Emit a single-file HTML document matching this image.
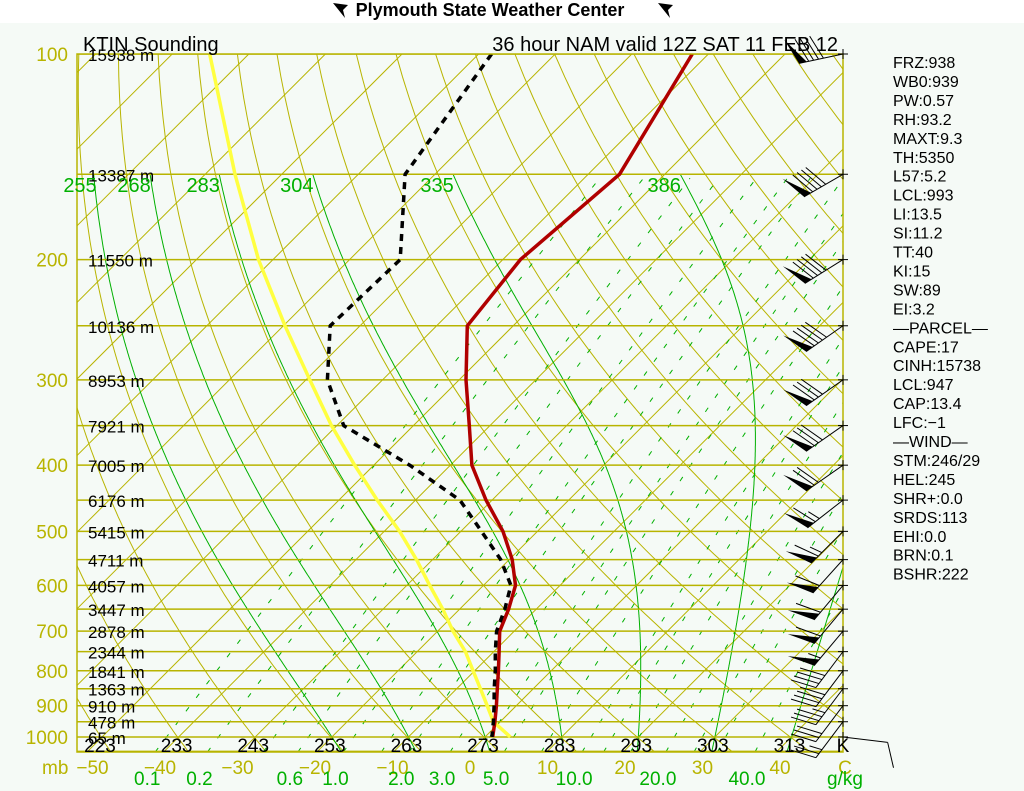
<!DOCTYPE html>
<html><head><meta charset="utf-8"><style>
html,body{margin:0;padding:0;background:#fff}
svg{display:block}
text{font-family:"Liberation Sans",sans-serif}
</style></head><body>
<svg id="chart" width="1024" height="791" viewBox="0 0 1024 791" xmlns="http://www.w3.org/2000/svg">
<rect x="0" y="0" width="1024" height="791" fill="#f5faf6"/>
<rect x="0" y="0" width="1024" height="23" fill="#ffffff"/>
<g>
<text x="490" y="16" text-anchor="middle" font-family="Liberation Serif,serif" font-weight="bold" font-size="18" fill="#000">Plymouth State Weather Center</text>
<path d="M333,3 L348,5 L343,10 L345,18 Z" fill="#000"/>
<path d="M658,3 L673,5 L668,10 L670,18 Z" fill="#000"/>
</g>
<defs><clipPath id="box"><rect x="77" y="54" width="766" height="698"/></clipPath></defs>
<g id="grid" clip-path="url(#box)"></g>
<g id="traces" clip-path="url(#box)"></g>
<rect x="77" y="54" width="766" height="698" fill="none" stroke="#b8b400" stroke-width="1.5"/>
<g id="labels"></g>
<g id="winds"></g>
<text x="83" y="51" font-size="20" fill="#000">KTIN Sounding</text>
<text x="838" y="51" font-size="20" text-anchor="end" fill="#000">36 hour NAM valid 12Z SAT 11 FEB 12</text>
<g id="indices"></g>
</svg>
<script>
const pressures=[100,150,200,250,300,350,400,450,500,550,600,650,700,750,800,850,900,950,1000];
const tempC=[-62.1,-55.9,-57.7,-56.0,-49.1,-42.7,-37.2,-30.8,-24.5,-19.6,-15.8,-13.6,-11.9,-9.3,-6.9,-4.7,-2.6,-0.7,1.0];
const dewC=[-88.3,-83.9,-73.4,-73.9,-67.2,-59.1,-45.3,-34.2,-27.3,-21.1,-16.4,-14.1,-12.3,-9.8,-7.3,-5.1,-2.9,-0.9,0.9];
const parcelC=[-125.1,-106.1,-91.9,-79.8,-69.5,-60.7,-52.5,-45.0,-38.0,-32.1,-27.0,-22.2,-18.0,-13.7,-10.2,-6.9,-3.8,-0.9,3.3];
const heightsM=[15938,13387,11550,10136,8953,7921,7005,6176,5415,4711,4057,3447,2878,2344,1841,1363,910,478,65];
const windDir=[258,240,238,235,235,235,235,232,225,222,220,220,220,217,217,217,217,217,97];
const windSpd=[90,90,90,90,80,80,70,65,65,60,60,60,55,40,40,35,30,25,10];
const pLabels=[100,200,300,400,500,600,700,800,900,1000];
const tLabels=[-50,-40,-30,-20,-10,0,10,20,30,40];
const thetaLabels=[223,233,243,253,263,273,283,293,303,313];
const thetaELabels=[255,268,283,304,335,386];
const mixLabels=[0.1,0.2,0.6,1.0,2.0,3.0,5.0,10.0,20.0,40.0];
const mixLines=[0.1,0.2,0.4,0.6,1,1.5,2,3,4,5,7,10,12,15,20,25,30,40];
const moistStartC=[-20,-10,0,10,20,30,40];
const indices=["FRZ:938","WB0:939","PW:0.57","RH:93.2","MAXT:9.3","TH:5350","L57:5.2","LCL:993","LI:13.5","SI:11.2","TT:40","KI:15","SW:89","EI:3.2","\u2014PARCEL\u2014","CAPE:17","CINH:15738","LCL:947","CAP:13.4","LFC:\u22121","\u2014WIND\u2014","STM:246/29","HEL:245","SHR+:0.0","SRDS:113","EHI:0.0","BRN:0.1","BSHR:222"];

const NS="http://www.w3.org/2000/svg";
const OL="#b8b400", GR="#00b000";
function yOf(p){return 54+296.6*Math.log(p/100);}
function xOf(T,p){return 470+7.66*T+(752-yOf(p));}
function mk(tag,attrs,parent){const e=document.createElementNS(NS,tag);for(const k in attrs)e.setAttribute(k,attrs[k]);parent.appendChild(e);return e;}
const grid=document.getElementById('grid'),traces=document.getElementById('traces'),labels=document.getElementById('labels'),winds=document.getElementById('winds'),ind=document.getElementById('indices');
function polyStr(pts){return pts.map(q=>q[0].toFixed(1)+','+q[1].toFixed(1)).join(' ');}

for(let T=-160;T<=50;T+=10){
  const l=mk('line',{x1:xOf(T,1052),y1:yOf(1052),x2:xOf(T,100),y2:yOf(100),stroke:OL,'stroke-width':1},grid);
  
  
}
for(let th=193;th<=523;th+=10){
  const pts=[];
  for(let p=1052;p>=100;p-=8){pts.push([xOf(th*Math.pow(p/1000,0.286)-273.15,p),yOf(p)]);}
  pts.push([xOf(th*Math.pow(0.1,0.286)-273.15,100),yOf(100)]);
  const e=mk('polyline',{points:polyStr(pts),fill:'none',stroke:OL,'stroke-width':1},grid);
  
  
}
for(const w of mixLines){
  const pts=[];
  for(let p=1052;p>=150;p-=10){const e=w*p/(622+w);const L=Math.log(e/6.112);const Td=243.5*L/(17.67-L);pts.push([xOf(Td,p),yOf(p)]);}
  const e=mk('polyline',{points:polyStr(pts),fill:'none',stroke:GR,'stroke-width':1,'stroke-dasharray':'5,12'},grid);
  
  
}
function dTdp(T,p){const es=6.112*Math.exp(17.67*(T-273.15)/(T-29.65));const rs=0.622*es/(p-es);return (287*T+2.5e6*rs)/(p*(1005+2.5e6*2.5e6*rs*0.622/(287*T*T)));}
for(const T0 of moistStartC){
  let T=T0+273.15,p=1000;
  while(p<1052){T+=dTdp(T,p)*2;p+=2;}
  const pts=[[xOf(T-273.15,p),yOf(p)]];
  while(p>150){T-=dTdp(T,p)*2;p-=2;pts.push([xOf(T-273.15,p),yOf(p)]);}
  const e=mk('polyline',{points:polyStr(pts),fill:'none',stroke:GR,'stroke-width':1},grid);
  
  
}
for(let p=100;p<=1050;p+=50){
  const e=mk('line',{x1:77,x2:843,y1:yOf(p),y2:yOf(p),stroke:OL,'stroke-width':1.5},grid);
  
  
}
function trace(arr,attrs,name){
  const pts=pressures.map((p,i)=>[xOf(arr[i],p),yOf(p)]);
  const e=mk('polyline',Object.assign({points:polyStr(pts),fill:'none','stroke-linejoin':'round'},attrs),traces);
  
  
}
trace(parcelC,{stroke:'#ffff40','stroke-width':3.5},'parcel-trace');
trace(tempC,{stroke:'#b00000','stroke-width':3.5},'temperature-trace');
trace(dewC,{stroke:'#000','stroke-width':3.5,'stroke-dasharray':'7,6'},'dewpoint-trace');

for(const p of pLabels){
  const t=mk('text',{x:68,y:yOf(p)+7,'text-anchor':'end','font-size':19,fill:OL},labels);t.textContent=p;
  
  
}
pressures.forEach((p,i)=>{
  const t=mk('text',{x:88,y:yOf(p)+7,'font-size':17,fill:'#000'},labels);t.textContent=heightsM[i]+' m';
  
  
});
for(const th of thetaLabels){
  const t=mk('text',{x:xOf(th-273,1052)+13,y:752,'text-anchor':'middle','font-size':19,fill:'#000'},labels);t.textContent=th;
  
  
}
let kt=mk('text',{x:843,y:752,'font-size':19,fill:'#000','text-anchor':'middle'},labels);kt.textContent='K';


for(const T of tLabels){
  const t=mk('text',{x:470+7.75*T+(T===-50?10:0),y:774,'text-anchor':'middle','font-size':19,fill:OL},labels);t.textContent=(T<0?'\u2212':'')+Math.abs(T);
  
  
}
let mb=mk('text',{x:42,y:774,'font-size':19,fill:OL},labels);mb.textContent='mb';


let cu=mk('text',{x:845,y:774,'text-anchor':'middle','font-size':19,fill:OL},labels);cu.textContent='C';


for(const w of mixLabels){
  const e=w*1052/(622+w);const L=Math.log(e/6.112);const Td=243.5*L/(17.67-L);
  const t=mk('text',{x:xOf(Td,1052)-8,y:785,'text-anchor':'middle','font-size':19,fill:GR},labels);t.textContent=w.toFixed(1);
  
  
}
let gk=mk('text',{x:845,y:785,'text-anchor':'middle','font-size':19,fill:GR},labels);gk.textContent='g/kg';


thetaELabels.forEach((v,i)=>{
  let T=moistStartC[i]+273.15,p=1000;
  while(p>150){T-=dTdp(T,p)*2;p-=2;}
  const t=mk('text',{x:Math.max(xOf(T-273.15,150)-16,80),y:192,'text-anchor':'middle','font-size':20,fill:GR},labels);t.textContent=v;
  
  
});
indices.forEach((s,i)=>{
  const t=mk('text',{x:893,y:68+i*18.95,'font-size':16,fill:'#000'},ind);t.textContent=s;
  
  
});
pressures.forEach((p,i)=>{
  const y0=yOf(p),x0=843;
  const g=mk('g',{},winds);
  
  
  mk('line',{x1:x0-5,x2:x0+5,y1:y0,y2:y0,stroke:'#000','stroke-width':1},g);
  mk('line',{x1:x0,x2:x0,y1:y0-5,y2:y0+5,stroke:'#000','stroke-width':1},g);
  const a=windDir[i]*Math.PI/180;const vx=Math.sin(a),vy=-Math.cos(a);
  const L=45;const ex=x0+vx*L,ey=y0+vy*L;
  mk('line',{x1:x0,y1:y0,x2:ex,y2:ey,stroke:'#000','stroke-width':1},g);
  const r=70*Math.PI/180;const fx=vx*Math.cos(r)-vy*Math.sin(r),fy=vx*Math.sin(r)+vy*Math.cos(r);
  let s=windSpd[i],pos=0;
  const pt=d=>[ex-vx*d,ey-vy*d];
  while(s>=50){const a1=pt(pos),a2=pt(pos+8);mk('polygon',{points:polyStr([a1,[a1[0]+fx*28,a1[1]+fy*28],a2]),fill:'#000'},g);pos+=10;s-=50;}
  while(s>=10){const a1=pt(pos);mk('line',{x1:a1[0],y1:a1[1],x2:a1[0]+fx*26,y2:a1[1]+fy*26,stroke:'#000','stroke-width':1},g);pos+=5;s-=10;}
  if(s>=5){const a1=pt(pos);mk('line',{x1:a1[0],y1:a1[1],x2:a1[0]+fx*13,y2:a1[1]+fy*13,stroke:'#000','stroke-width':1},g);}
});
</script>
</body></html>
